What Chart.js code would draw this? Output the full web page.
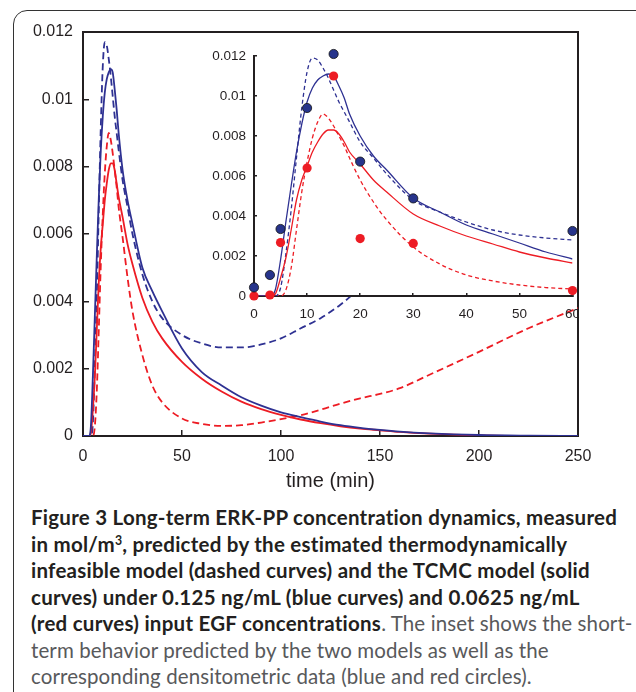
<!DOCTYPE html>
<html>
<head>
<meta charset="utf-8">
<script src="https://cdn.jsdelivr.net/npm/chart.js@4.4.0/dist/chart.umd.min.js"></script>
<style>
  body { margin: 0; width: 636px; height: 692px; overflow: hidden; background: #fff; position: relative; }
  #outline { position: absolute; left: 13px; top: 10px; width: 700px; height: 720px; border: 1.5px solid #333; border-radius: 14px; }
  #mainChart { position: absolute; left: 0; top: 0; }
  #insetClip { position: absolute; left: 200px; top: 30px; width: 377px; height: 300px; overflow: hidden; }
  #insetChart { position: absolute; left: 0; top: 0; }
  #caption { position: absolute; left: 31px; top: 504px; font-family: Lato, sans-serif; font-size: 20.5px; letter-spacing: 0.1px;
             line-height: 26.5px; color: #58595b; white-space: nowrap; }
  #caption b { color: #231f20; letter-spacing: 0.25px; }
  #caption sup { font-size: 0.6em; vertical-align: 0.6em; line-height: 0; }
</style>
</head>
<body>
<div id="outline"></div>
<canvas id="mainChart" width="636" height="500"></canvas>
<div id="insetClip"><canvas id="insetChart" width="393" height="300"></canvas></div>
<div id="caption"><b>Figure 3 Long-term ERK-PP concentration dynamics, measured<br>in mol/m<sup>3</sup>, predicted by the estimated thermodynamically<br>infeasible model (dashed curves) and the TCMC model (solid<br>curves) under 0.125 ng/mL (blue curves) and 0.0625 ng/mL<br>(red curves) input EGF concentrations</b>. The inset shows the short-<br>term behavior predicted by the two models as well as the<br>corresponding densitometric data (blue and red circles).</div>

<script>
// long-term curves, 0-250 min (mol/m3)
var mainTime = [0, 3, 4, 5, 6, 7, 8, 9, 10, 11, 12, 13, 14, 15, 16, 17, 18, 20, 22.5, 25, 30, 35, 40, 50, 60, 70, 80, 90, 100, 110, 120, 130, 140, 150, 160, 175, 200, 225, 250];
var mainBlueSolid = [0, 0, 0.0003, 0.0018, 0.0036, 0.0054, 0.0071, 0.0085, 0.0095, 0.0102, 0.0106, 0.0108, 0.0109, 0.0108, 0.0103, 0.0097, 0.0090, 0.0079, 0.0070, 0.0063, 0.0050, 0.0043, 0.0037, 0.0026, 0.0019, 0.0015, 0.00115, 0.0009, 0.0007, 0.00056, 0.00043, 0.00032, 0.00024, 0.00018, 0.00013, 0.00008, 0.00003, 0.00001, 0];
var mainBlueDash = [0, 0, 0, 0.0004, 0.0021, 0.0042, 0.0068, 0.0092, 0.0110, 0.0117, 0.0116, 0.0112, 0.0107, 0.0101, 0.0095, 0.0090, 0.0085, 0.0076, 0.0068, 0.0060, 0.0048, 0.0040, 0.0035, 0.0030, 0.00275, 0.00263, 0.00263, 0.00272, 0.0029, 0.0032, 0.0035, 0.0039, 0.0044, null, null, null, null, null, null];
var mainRedSolid = [0, 0, 0.0001, 0.0008, 0.0018, 0.0032, 0.0046, 0.0056, 0.0063, 0.0070, 0.0075, 0.0079, 0.0081, 0.0081, 0.0079, 0.0075, 0.0071, 0.0065, 0.0057, 0.0051, 0.0041, 0.0034, 0.0029, 0.0022, 0.0017, 0.00132, 0.00102, 0.0008, 0.00063, 0.00049, 0.00038, 0.00029, 0.00022, 0.00017, 0.00012, 0.00007, 0.00002, 0, 0];
var mainRedDash = [0, 0, 0, 0, 0.0003, 0.0014, 0.0032, 0.0051, 0.0066, 0.0078, 0.0086, 0.0090, 0.0088, 0.0084, 0.0079, 0.0074, 0.0068, 0.0059, 0.0047, 0.0037, 0.0024, 0.0015, 0.0010, 0.00052, 0.00036, 0.0003, 0.00032, 0.0004, 0.0005, 0.00062, 0.00078, 0.00096, 0.00112, 0.00125, 0.00142, 0.00182, 0.0025, 0.0032, 0.0038];

// inset, 0-60 min
var insetTime = [0, 3, 4, 5, 6, 7, 8, 9, 10, 11, 12, 13, 14, 15, 16, 17, 18, 20, 22.5, 25, 30, 35, 40, 45, 50, 55, 60];
var insetBlueSolid = [0, 0, 0.0003, 0.0018, 0.0037, 0.0055, 0.0072, 0.0086, 0.0097, 0.0104, 0.0108, 0.0110, 0.0111, 0.0110, 0.0105, 0.0099, 0.0091, 0.0080, 0.0070, 0.0063, 0.0049, 0.0042, 0.00355, 0.0031, 0.00265, 0.0022, 0.00185];
var insetBlueDash = [0, 0, 0, 0.0004, 0.0021, 0.0043, 0.0069, 0.0094, 0.0112, 0.0119, 0.0118, 0.0114, 0.0109, 0.0103, 0.0097, 0.0092, 0.0087, 0.0077, 0.0069, 0.0061, 0.0048, 0.0042, 0.0037, 0.0033, 0.00305, 0.0029, 0.0028];
var insetRedSolid = [0, 0, 0.0001, 0.0009, 0.0019, 0.0033, 0.0048, 0.0058, 0.0065, 0.0072, 0.0077, 0.0081, 0.0083, 0.0083, 0.0081, 0.0077, 0.0072, 0.0066, 0.0058, 0.0052, 0.0041, 0.0035, 0.0030, 0.0026, 0.0022, 0.0019, 0.00165];
var insetRedDash = [0, 0, 0, 0, 0.0003, 0.0014, 0.0033, 0.0052, 0.0067, 0.0079, 0.0087, 0.0091, 0.0089, 0.0085, 0.0080, 0.0075, 0.0069, 0.0058, 0.0047, 0.0038, 0.00245, 0.0016, 0.00105, 0.00075, 0.00055, 0.00042, 0.00035];

// densitometric data (circles)
var dotTime = [0, 3, 5, 10, 15, 20, 30, 60];
var blueDots = [0.00043, 0.00105, 0.00335, 0.0094, 0.0121, 0.00672, 0.00488, 0.00325];
var redDots = [0, 0.00005, 0.00267, 0.0064, 0.0110, 0.00287, 0.00263, 0.00027];

var mainXTicks = [0, 50, 100, 150, 200, 250];
var insetXTicks = [0, 10, 20, 30, 40, 50, 60];

var BLUE = '#2e3192', RED = '#ed1c24', INK = '#231f20';
var FONT = '"Liberation Sans", Arial, sans-serif';

function pts(t, v) {
  return t.map(function (x, i) { return { x: x, y: v[i] }; });
}
function curve(t, v, color, dash, w) {
  return { data: pts(t, v), showLine: true, borderColor: color, borderWidth: w, borderDash: dash,
           pointRadius: 0, cubicInterpolationMode: 'monotone', fill: false };
}
function fmt(v) { return String(parseFloat(v.toFixed(4))); }
function useTicks(list) {
  return function (s) { s.ticks = list.map(function (v) { return { value: v }; }); };
}
// bare axis used only for its border line (top / right side of the box)
function edgeAxis(pos, max) {
  return {
    type: 'linear', position: pos, min: 0, max: max,
    ticks: { display: false }, grid: { display: false },
    border: { display: true, color: INK, width: 2 },
    afterFit: function (s) { if (pos === 'top') s.height = 0; else s.width = 0; }
  };
}

// inset sits on a white patch that hides the long-term curves behind it
var whiteArea = {
  id: 'whiteArea',
  beforeDraw: function (chart) {
    var a = chart.chartArea, c = chart.ctx;
    c.save();
    c.fillStyle = '#fff';
    c.fillRect(a.left, a.top - 2, a.right - a.left + 6, a.bottom - a.top + 2);
    c.restore();
  }
};

new Chart('mainChart', {
  type: 'scatter',
  data: {
    datasets: [
      curve(mainTime, mainBlueSolid, BLUE, [], 1.8),
      curve(mainTime, mainRedSolid, RED, [], 1.8),
      curve(mainTime, mainBlueDash, BLUE, [7, 4], 1.8),
      curve(mainTime, mainRedDash, RED, [7, 4], 1.8)
    ]
  },
  options: {
    responsive: false, animation: false, devicePixelRatio: 1,
    layout: { padding: { left: 0, top: 32, right: 58, bottom: 4 } },
    plugins: { legend: { display: false }, tooltip: { enabled: false } },
    scales: {
      x: {
        type: 'linear', min: 0, max: 250,
        afterBuildTicks: useTicks(mainXTicks),
        ticks: { font: { size: 16, family: FONT }, color: INK, padding: 17, maxRotation: 0 },
        grid: { drawOnChartArea: false, tickLength: -6, color: INK, lineWidth: 1.5 },
        border: { color: INK, width: 2 },
        title: { display: true, text: 'time (min)', font: { size: 20, family: FONT }, color: INK, padding: { top: 0, bottom: 3 } },
        afterFit: function (s) { s.height = 60; }
      },
      y: {
        type: 'linear', min: 0, max: 0.012,
        ticks: { stepSize: 0.002, font: { size: 16, family: FONT }, color: INK, padding: 16, callback: fmt },
        grid: { drawOnChartArea: false, tickLength: -6, color: INK, lineWidth: 1.5 },
        border: { color: INK, width: 2 },
        afterFit: function (s) { s.width = 83; }
      },
      xTop: edgeAxis('top', 250),
      yRight: edgeAxis('right', 0.012)
    }
  }
});

new Chart('insetChart', {
  type: 'scatter',
  data: {
    datasets: [
      { data: pts(dotTime, blueDots), pointRadius: 4.6, pointBackgroundColor: '#27348b', pointBorderColor: '#111', pointBorderWidth: 0.8, showLine: false, clip: false },
      { data: pts(dotTime, redDots), pointRadius: 4.6, pointBackgroundColor: RED, pointBorderColor: RED, pointBorderWidth: 0, showLine: false, clip: false },
      curve(insetTime, insetBlueSolid, BLUE, [], 1.3),
      curve(insetTime, insetRedSolid, RED, [], 1.3),
      curve(insetTime, insetBlueDash, BLUE, [4, 3], 1.3),
      curve(insetTime, insetRedDash, RED, [4, 3], 1.3)
    ]
  },
  options: {
    responsive: false, animation: false, devicePixelRatio: 1,
    layout: { padding: { left: 0, top: 26, right: 13, bottom: 0 } },
    plugins: { legend: { display: false }, tooltip: { enabled: false } },
    scales: {
      x: {
        type: 'linear', min: 0, max: 60,
        afterBuildTicks: useTicks(insetXTicks),
        ticks: { font: { size: 13.5, family: FONT }, color: INK, padding: 13, maxRotation: 0 },
        grid: { drawOnChartArea: false, tickLength: -3, color: INK, lineWidth: 1.5 },
        border: { color: INK, width: 2 },
        afterFit: function (s) { s.height = 34; }
      },
      y: {
        type: 'linear', min: 0, max: 0.012,
        ticks: { stepSize: 0.002, font: { size: 13.5, family: FONT }, color: INK, padding: 11, callback: fmt },
        grid: { drawOnChartArea: false, tickLength: -3, color: INK, lineWidth: 1.5 },
        border: { color: INK, width: 2 },
        afterFit: function (s) { s.width = 54; }
      }
    }
  },
  plugins: [whiteArea]
});
</script>
</body>
</html>
